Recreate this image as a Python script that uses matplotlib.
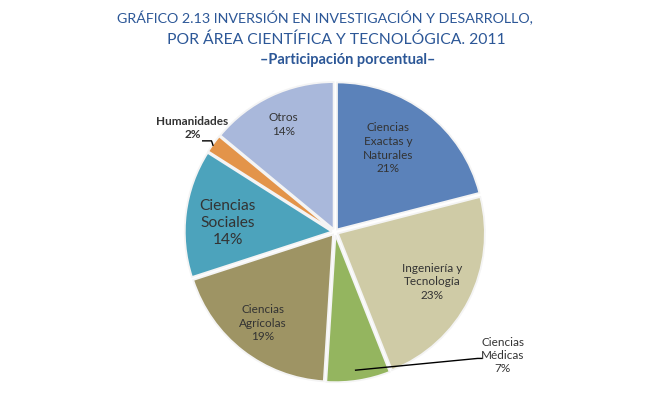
import matplotlib
matplotlib.use("Agg")
import matplotlib.pyplot as plt

# ---- datos ------------------------------------------------------------------
areas = ["Ciencias\nExactas y\nNaturales", "Ingeniería y\nTecnología",
         "Ciencias\nMédicas", "Ciencias\nAgrícolas", "Ciencias\nSociales",
         "Humanidades", "Otros"]
porcentajes = [21, 23, 7, 19, 14, 2, 14]
colores = ["#5B82BA", "#CFCBA6", "#94B55F", "#9E9464", "#4CA3BC",
           "#E3944A", "#A9B8DB"]

TITLE_C = "#2C5797"
TXT = "#333333"

fig = plt.figure(figsize=(6.53, 3.98), dpi=100)
fig.patch.set_facecolor("white")

fig.text(117 / 653, 0.955, "GRÁFICO 2.13 INVERSIÓN EN INVESTIGACIÓN Y DESARROLLO,",
         ha="left", va="center", color=TITLE_C, fontsize=10.3, family="Lato")
fig.text(167 / 653, 0.899, "POR ÁREA CIENTÍFICA Y TECNOLÓGICA. 2011",
         ha="left", va="center", color=TITLE_C, fontsize=11.3, family="Lato")
fig.text(260 / 653, 0.849, "\u2013Participación porcentual\u2013",
         ha="left", va="center", color=TITLE_C, fontsize=10.5,
         fontweight="bold", family="Lato")

# eje en pixeles: centro (335, 166 desde abajo), radio 147 px
R = 147.0
W_PX, H_PX = 400, 332
ax = fig.add_axes([(335 - W_PX / 2) / 653, 0, W_PX / 653, H_PX / 398])

wedges, _ = ax.pie(porcentajes, colors=colores, startangle=90,
                   counterclock=False, explode=[0.022] * len(porcentajes),
                   wedgeprops=dict(edgecolor="#F4F4F4", linewidth=1.3))
for w in wedges:
    w.set_clip_on(False)
ax.set_xlim(-W_PX / 2 / R, W_PX / 2 / R)
ax.set_ylim(-H_PX / 2 / R, H_PX / 2 / R)
ax.axis("off")

# etiquetas (posiciones en unidades del radio)
lab_pos = [(0.36, 0.57), (0.66, -0.34), None, (-0.49, -0.62),
           (-0.73, 0.06), None, (-0.35, 0.73)]
for i, pos in enumerate(lab_pos):
    if pos is None:
        continue
    fs = 11.2 if i == 4 else 8.5
    ax.text(pos[0], pos[1], f"{areas[i]}\n{porcentajes[i]}%", ha="center",
            va="center", fontsize=fs, color=TXT, family="Lato",
            linespacing=1.3)

# Humanidades con linea guia
ax.text(-0.97, 0.71, f"{areas[5]}\n{porcentajes[5]}%", ha="center",
        va="center", fontsize=8.5, color=TXT, family="Lato",
        fontweight="bold", linespacing=1.2)
ax.plot([-0.90, -0.84, -0.83], [0.62, 0.62, 0.59], color="black", lw=1,
        clip_on=False)

# Medicas con linea guia
ax.text(1.14, -0.84, f"{areas[2]}\n{porcentajes[2]}%", ha="center",
        va="center", fontsize=8.5, color=TXT, family="Lato", linespacing=1.25)
ax.plot([0.14, 0.97, 1.00], [-0.94, -0.86, -0.86], color="black", lw=1,
        clip_on=False)

fig.savefig("out.png", dpi=100, facecolor="white")
